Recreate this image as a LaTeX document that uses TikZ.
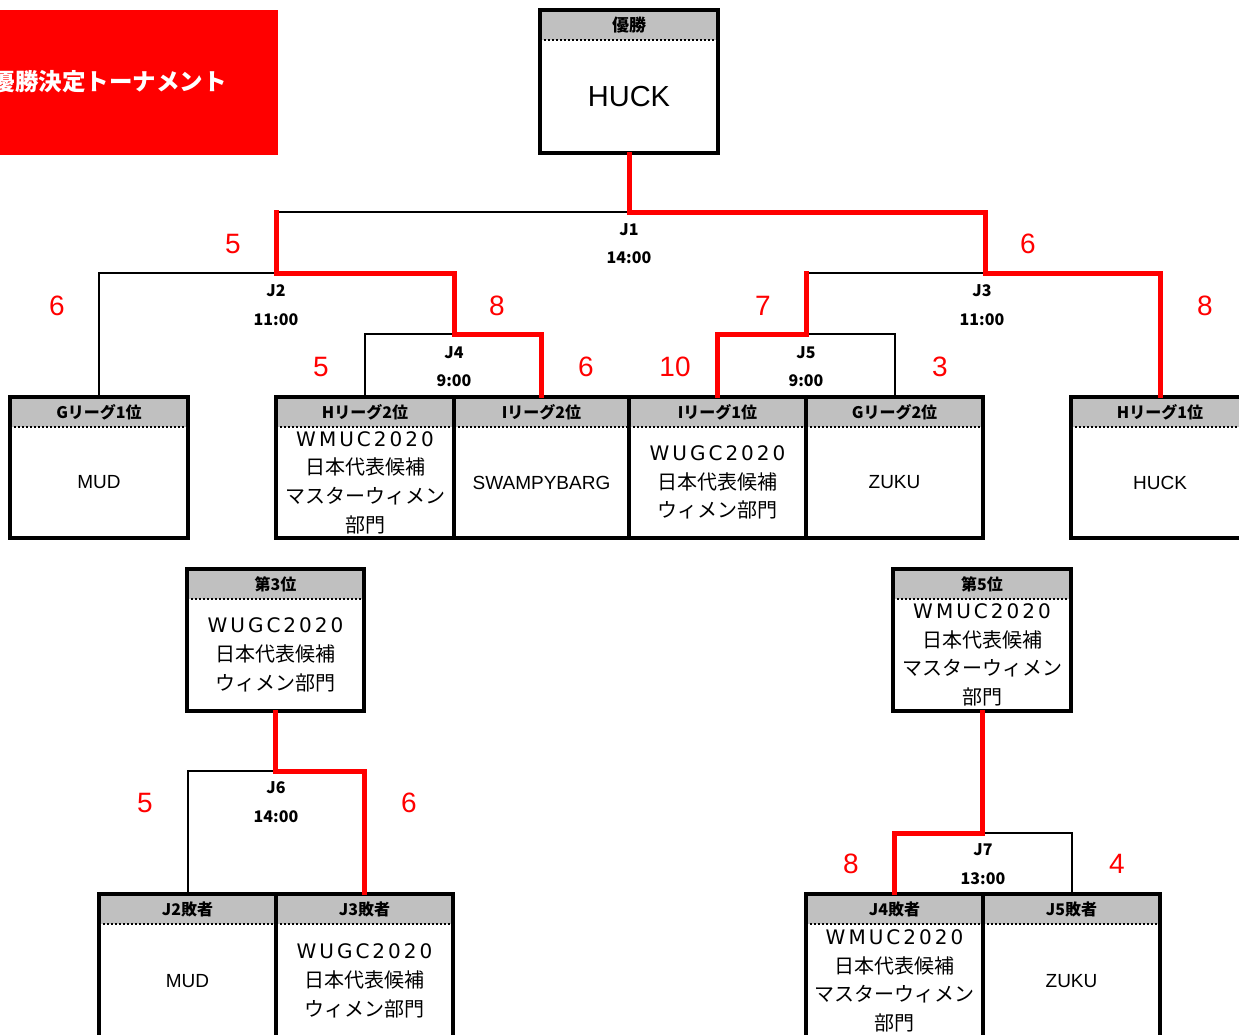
\documentclass[tikz,border=0pt]{standalone}
\usepackage{fontspec}
\setmainfont{Liberation Sans}
\newfontfamily\jp{Noto Sans CJK JP}
\newfontfamily\jpw[LetterSpace=15]{DejaVu Sans}
\definecolor{hdrgray}{RGB}{192,192,192}
\definecolor{winred}{RGB}{255,0,0}
\tikzset{
  hdrfill/.style={fill=hdrgray},
  hdrdots/.style={line width=2pt, dash pattern=on 2pt off 2pt},
  hdrtext/.style={inner sep=0pt, font=\jp\bfseries\fontsize{16}{18}\selectfont},
  bodytext/.style={inner sep=0pt, align=center, font=\jp\fontsize{20}{28.7}\selectfont},
  frame/.style={draw, line width=3.5pt, inner sep=0pt, fill=none},
  blackline/.style={line width=2pt, line cap=rect},
  redline/.style={draw=winred, line width=5pt, line cap=rect},
  score/.style={text=winred, inner sep=0pt, font=\rmfamily\fontsize{28}{30}\selectfont},
  jlabel/.style={inner sep=0pt, align=center, font=\jp\bfseries\fontsize{16}{28.5}\selectfont},
}
\newcommand\tbox[7]{%
  \fill[hdrfill] (#2,#3) rectangle (#4,#3+30);
  \draw[hdrdots] (#2,#3+30) -- (#4,#3+30);
  \node[hdrtext] (#1h) at ({(#2+#4)/2},#3+15) {#6};
  \node[bodytext] (#1b) at ({(#2+#4)/2},{(#3+30+#5)/2}) {#7};
  \node[frame, minimum width={(#4-#2)*1pt}, minimum height={(#5-#3)*1pt}] (#1) at ({(#2+#4)/2},{(#3+#5)/2}) {};
}
\newcommand\nm[1]{{\rmfamily\fontsize{19}{20}\selectfont #1}}
\newcommand\wmtext{{\jpw\fontsize{20}{28.7}\selectfont WMUC2020}\\日本代表候補\\マスターウィメン\\部門}
\newcommand\wutext{{\jpw\fontsize{20}{28.7}\selectfont WUGC2020}\\日本代表候補\\ウィメン部門}
\begin{document}
\begin{tikzpicture}[x=1pt,y=-1pt]
\useasboundingbox (0,0) rectangle (1239,1034);
\clip (0,0) rectangle (1239,1034);
% title
\fill[winred] (0,10) rectangle (278,155);
\node[anchor=east, inner sep=0pt, text=white, font=\jp\bfseries\fontsize{23.5}{26}\selectfont] (title) at (227,82) {優勝決定トーナメント};
% winner box
\fill[hdrfill] (540,10) rectangle (718,40);
\draw[hdrdots] (540,40) -- (718,40);
\node[inner sep=0pt, font=\jp\bfseries\fontsize{17}{18}\selectfont] (winh) at (629,25) {優勝};
\node[inner sep=0pt, font=\rmfamily\fontsize{29}{30}\selectfont] (winb) at (629,97) {HUCK};
\node[frame, minimum width=178pt, minimum height=143pt] (win) at (629,81.5) {};
% first row boxes
\tbox{g1}{10}{397}{188}{538}{Gリーグ1位}{\nm{MUD}}
\tbox{h2}{276}{397}{454}{538}{Hリーグ2位}{\wmtext}
\tbox{i2}{454}{397}{629}{538}{Iリーグ2位}{\nm{SWAMPYBARG}}
\tbox{i1}{629}{397}{806}{538}{Iリーグ1位}{\wutext}
\tbox{g2}{806}{397}{983}{538}{Gリーグ2位}{\nm{ZUKU}}
\tbox{h1}{1071}{397}{1249}{538}{Hリーグ1位}{\nm{HUCK}}
% placement boxes
\tbox{third}{187}{569}{364}{711}{第3位}{\wutext}
\tbox{fifth}{893}{569}{1071}{711}{第5位}{\wmtext}
\tbox{jtwo}{99}{894}{276}{1038}{J2敗者}{\nm{MUD}}
\tbox{jthree}{276}{894}{453}{1038}{J3敗者}{\wutext}
\tbox{jfour}{806}{894}{983}{1038}{J4敗者}{\wmtext}
\tbox{jfive}{983}{894}{1160}{1038}{J5敗者}{\nm{ZUKU}}
% junctions
\coordinate (J1m) at (629,212);
\coordinate (J1L) at (276,212);
\coordinate (J2m) at (276,273);
\coordinate (J4m) at (454,334);
\coordinate (J3m) at (985,273);
\coordinate (J3L) at (806,273);
\coordinate (J5m) at (806,334);
\coordinate (J6m) at (275.5,771);
\coordinate (J7m) at (982,833);
% black connectors
\draw[blackline] (J1L) -- (J1m);
\draw[blackline] (g1.north) |- (J2m);
\draw[blackline] (h2.north) |- (J4m);
\draw[blackline] (J3L) -- (J3m);
\draw[blackline] (J5m) -| (g2.north);
\draw[blackline] (J6m) -| (jtwo.north);
\draw[blackline] (J7m) -| (jfive.north);
% red connectors
\draw[redline] (win.south) -- (J1m) -| (J3m) -| (h1.north);
\draw[redline] (J1L) -- (J2m) -| (J4m) -| (i2.north);
\draw[redline] (J3L) -- (J5m) -| (i1.north);
\draw[redline] (third.south) -- (J6m) -| (jthree.north);
\draw[redline] (fifth.south) -- (J7m) -| (jfour.north);
% match labels
\node[jlabel] (l1) at (629,243.5) {J1\\14:00};
\node[jlabel] (l2) at (276,305) {J2\\11:00};
\node[jlabel] (l4) at (454,366.5) {J4\\9:00};
\node[jlabel] (l5) at (806,366.5) {J5\\9:00};
\node[jlabel] (l3) at (982,305) {J3\\11:00};
\node[jlabel] (l6) at (276,802) {J6\\14:00};
\node[jlabel] (l7) at (983,864) {J7\\13:00};
% scores
\node[score] (s1) at (233,244) {5};
\node[score] (s2) at (57,306) {6};
\node[score] (s3) at (497,306) {8};
\node[score] (s4) at (321,367) {5};
\node[score] (s5) at (586,367) {6};
\node[score] (s6) at (763,306) {7};
\node[score] (s7) at (1028,244) {6};
\node[score] (s8) at (1205,306) {8};
\node[score] (s9) at (675,367) {10};
\node[score] (s10) at (940,367) {3};
\node[score] (s11) at (145,803) {5};
\node[score] (s12) at (409,803) {6};
\node[score] (s13) at (851,864) {8};
\node[score] (s14) at (1117,864) {4};
\end{tikzpicture}
\end{document}
